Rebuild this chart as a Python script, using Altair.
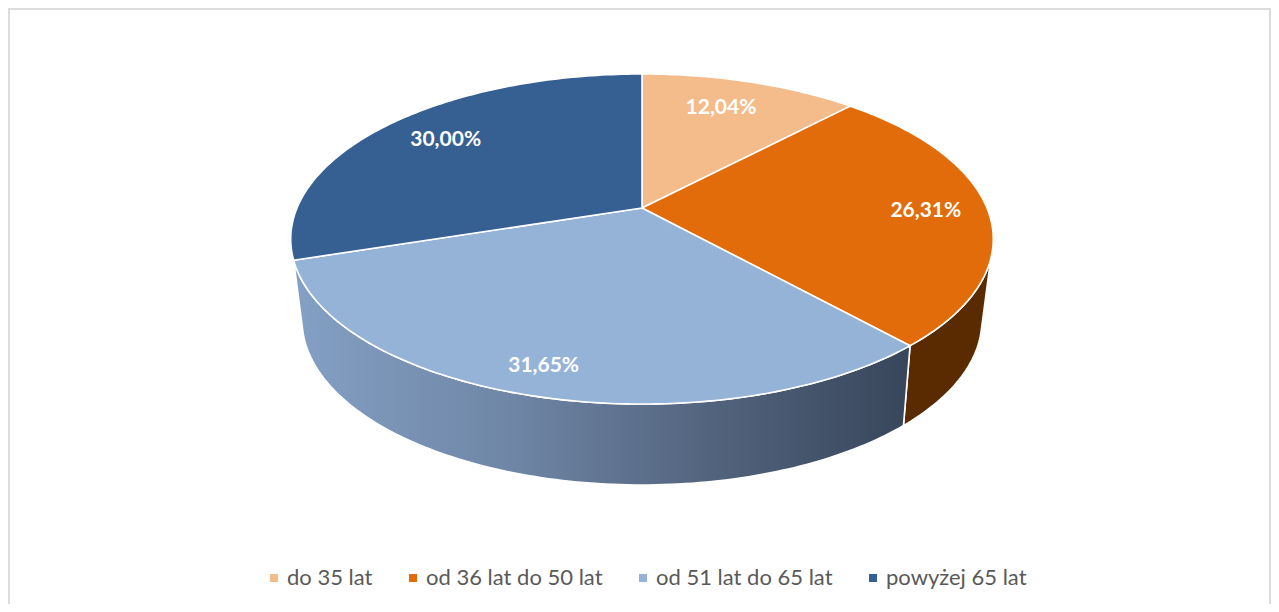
import numpy as np
import pandas as pd
import altair as alt

# Data
CATEGORIES = ["do 35 lat", "od 36 lat do 50 lat", "od 51 lat do 65 lat", "powyżej 65 lat"]
SHARES = [12.04, 26.31, 31.65, 30.00]
TOP_COLORS = ["#f4bb8b", "#e26b0a", "#95b3d7", "#366092"]
LABEL_RADII = [0.76, 0.82, 0.87, 0.775]
LABEL_TURNS = [-1.7, 0.6, 1.0, 1.0]

# Page-pixel frame and the pie's perspective
W, H = 1263, 596
CX, CY = 642.0, 208.0
RIM_A, RIM_B, PERSP = 345.0, 159.2, 0.188
LOW_CY, LOW_A, LOW_B, LOW_PERSP = 287.5, 333.0, 158.0, 0.2
FRAME_COLOR = "#dcdcdc"


def project(theta, r=1.0, cy=CY, a=RIM_A, b=RIM_B, p=PERSP):
    t = np.radians(theta)
    d = 1 + p * r * np.cos(t)
    return CX + a * r * np.sin(t) / d, cy - b * r * np.cos(t) / d


def arc(t0, t1, **kw):
    n = max(2, int(abs(t1 - t0)) + 2)
    return project(np.linspace(t0, t1, n), **kw)


def frame(xs, ys):
    return pd.DataFrame({"x": xs, "y": ys, "i": np.arange(len(xs))})


x_scale = alt.Scale(domain=[8, 8 + W], range=[0, W], nice=False, zero=False)
y_scale = alt.Scale(domain=[8 + H, 8], range=[H, 0], nice=False, zero=False)
X = alt.X("x:Q", scale=x_scale, axis=None)
Y = alt.Y("y:Q", scale=y_scale, axis=None)
LOW = dict(cy=LOW_CY, a=LOW_A, b=LOW_B, p=LOW_PERSP)


def poly(df, fill):
    return alt.Chart(df).mark_line(
        fill=fill, stroke="#ffffff", strokeWidth=1.6, strokeJoin="round"
    ).encode(x=X, y=Y, order=alt.Order("i:Q"))


edges = np.concatenate([[0.0], np.cumsum(SHARES)]) / sum(SHARES) * 360.0
layers = []

# chart frame: top, left and right edges only (the bottom is not visible)
one = pd.DataFrame({"p": [1]})
layers.append(alt.Chart(one).mark_rule(color=FRAME_COLOR, strokeWidth=2).encode(
    x=alt.value(0), x2=alt.value(W), y=alt.value(1)))
layers.append(alt.Chart(one).mark_rule(color=FRAME_COLOR, strokeWidth=2).encode(
    x=alt.value(1), y=alt.value(0), y2=alt.value(H)))
layers.append(alt.Chart(one).mark_rule(color=FRAME_COLOR, strokeWidth=2).encode(
    x=alt.value(W - 1), y=alt.value(0), y2=alt.value(H)))

# side walls (only the two that face the viewer)
tx, ty = arc(107.5, edges[2])
bx, by = arc(edges[2], 105.0, **LOW)
wall_orange = frame(np.r_[tx, bx, tx[0]], np.r_[ty, by, ty[0]])
layers.append(poly(wall_orange, "#5a2b00"))

tx, ty = arc(edges[2], edges[3])
bx, by = arc(255.0, edges[2], **LOW)
wall_blue = frame(np.r_[tx, bx, tx[0]], np.r_[ty, by, ty[0]])
layers.append(poly(wall_blue, alt.Gradient(
    gradient="linear", x1=0, x2=1, y1=0, y2=0,
    stops=[
        alt.GradientStop(offset=0.0, color="#84a0c4"),
        alt.GradientStop(offset=0.35, color="#6f86a6"),
        alt.GradientStop(offset=0.7, color="#50617a"),
        alt.GradientStop(offset=1.0, color="#38465b"),
    ],
)))

# top wedges, with the point of the pie at the centre
for k, color in enumerate(TOP_COLORS):
    ax, ay = arc(edges[k], edges[k + 1])
    layers.append(poly(frame(np.r_[CX, ax, CX], np.r_[CY, ay, CY]), color))

# value labels
mids = (edges[:-1] + edges[1:]) / 2 + np.array(LABEL_TURNS)
lx, ly = zip(*[project(m, r=r) for m, r in zip(mids, LABEL_RADII)])
labels = pd.DataFrame({
    "x": lx, "y": ly,
    "t": [f"{v:.2f}".replace(".", ",") + "%" for v in SHARES],
})
layers.append(alt.Chart(labels).mark_text(
    font="Lato", fontSize=21, fontWeight="bold", color="#ffffff", baseline="middle"
).encode(x=X, y=Y, text="t:N"))

# legend
legend_df = pd.DataFrame({"x": [CX] * 4, "y": [CY] * 4, "c": CATEGORIES})
layers.append(alt.Chart(legend_df).mark_square(size=0, opacity=1).encode(
    x=X, y=Y,
    color=alt.Color(
        "c:N",
        scale=alt.Scale(domain=CATEGORIES, range=TOP_COLORS),
        legend=alt.Legend(
            title=None, orient="none", direction="horizontal",
            legendX=255, legendY=559, columns=4, columnPadding=29,
            symbolType="square", symbolSize=64, symbolStrokeWidth=0,
            labelFont="Lato", labelFontSize=22, labelColor="#595959",
            labelOffset=2, labelLimit=400,
        ),
    ),
))

chart = alt.layer(*layers).properties(
    width=W, height=H, padding=0,
    autosize=alt.AutoSizeParams(type="none"),
    background="#ffffff",
).configure_view(stroke=None)

chart.save("out.html", embed_options={"renderer": "svg", "actions": False})
